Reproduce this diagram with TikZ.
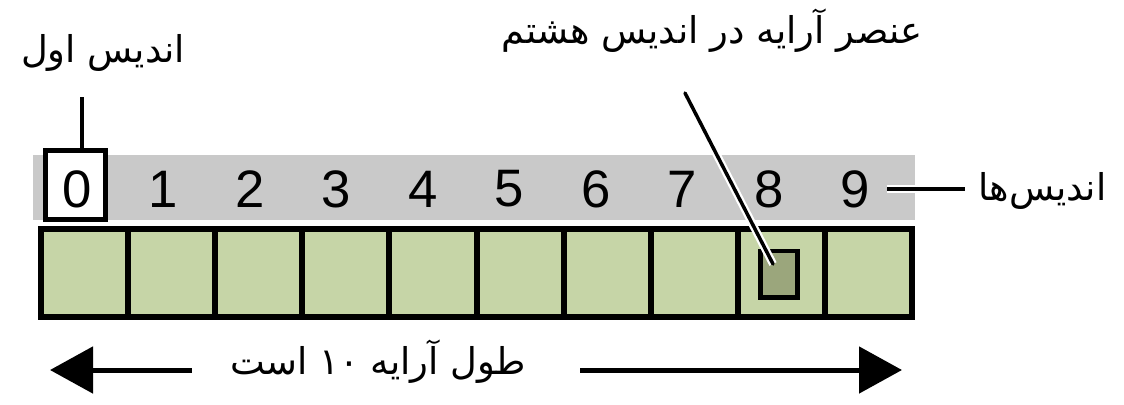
\documentclass[tikz,border=0pt]{standalone}
\usepackage{fontspec}
\usepackage{xcolor}
\usepackage{tikz}
\usetikzlibrary{arrows.meta,positioning}
\TeXXeTstate=1
\newfontfamily\farsifont[Script=Arabic]{DejaVu Sans}
\newfontfamily\digitfont{Liberation Sans}
\definecolor{cellgreen}{HTML}{C6D5A7}
\definecolor{elemolive}{HTML}{9BA67C}
\definecolor{bandgray}{HTML}{C9C9C9}
\tikzset{
    cellbox/.style={draw=black, line width=1.2mm, fill=cellgreen, minimum width=17.42mm,
                    minimum height=17.6mm, inner sep=0pt, outer sep=0pt},
    digit/.style={font=\digitfont\fontsize{30}{32}\selectfont, inner sep=0pt},
    farsi/.style={font=\farsifont\fontsize{21}{25}\selectfont, inner sep=0pt},
    callout/.style={line width=0.7mm, preaction={draw=white, line width=1.6mm}},
    lenarrow/.style={line width=1mm, -{Triangle[length=8.6mm, width=9.2mm]}}
}

\begin{document}
\begin{tikzpicture}[x=0.2mm, y=-0.2mm]
        \useasboundingbox (0,0) rectangle (1124,404);
        \node[fill=bandgray, minimum width=176.4mm, minimum height=13mm, inner sep=0pt] (band) at (474,187.5) {};
        \foreach \i in {0,...,9}
            \node[cellbox] (c\i) at ({84.55+87.1*\i},273) {};
        \node[draw, line width=1mm, fill=white, minimum width=12mm, minimum height=13.8mm, inner sep=0pt] (box0) at (75.8,185) {};
        \foreach \i in {0,...,9}
            \node[digit] (d\i) at ({76.7+86.5*\i},189) {\i};
        \node[draw, line width=0.9mm, fill=elemolive, minimum width=7.4mm, minimum height=9.3mm, inner sep=0pt] (elem) at (779,274) {};

        \node[farsi, anchor=base] (firstlbl) at (103,62) {\beginR اندیس اول\endR};
        \node[farsi, anchor=base] (elemlbl) at (712,43) {\beginR عنصر آرایه در اندیس هشتم\endR};
        \node[farsi, anchor=base west] (idxlbl) at (978,200) {\beginR اندیس‌ها\endR};
        \node[farsi, anchor=base] (lenlbl) at (378,374) {\beginR طول آرایه \beginL{}۱۰\endL{} است\endR};

        \coordinate (firsttop) at (82,97);
        \coordinate (elemtop) at (685,93);
        \coordinate (lenleft) at (50,370);
        \coordinate (lenright) at (902,370);

        \draw[callout] (firsttop) -- (firsttop |- box0.north);
        \draw[callout, line cap=round] (elemtop) -- ([shift={(-6,-10)}]elem.center);
        \draw[callout] ([xshift=3.4mm]d9.east) -- ([xshift=-2.6mm]idxlbl.west |- d9.east);
        \draw[lenarrow] ([xshift=-37.2mm]lenlbl.base |- lenleft) -- (lenleft);
        \draw[lenarrow] ([xshift=40.4mm]lenlbl.base |- lenright) -- (lenright);
    \end{tikzpicture}
\end{document}
